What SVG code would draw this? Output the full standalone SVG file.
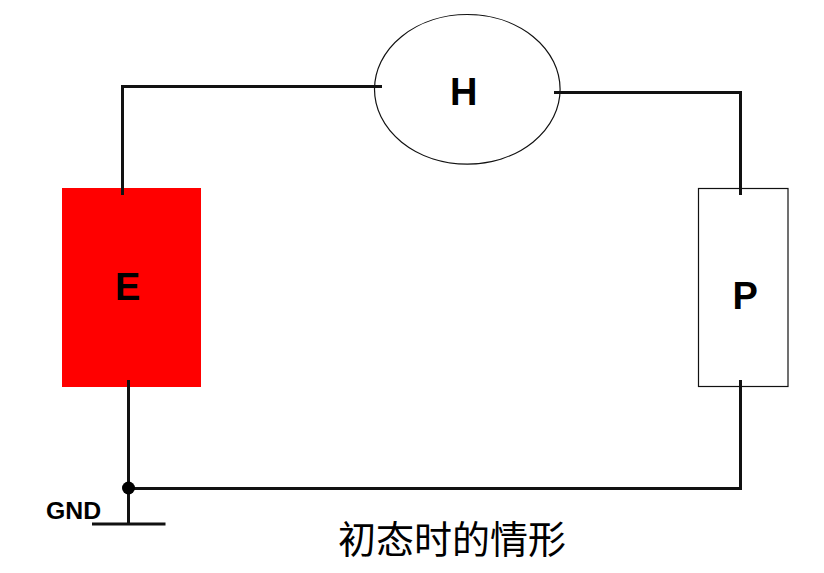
<svg xmlns="http://www.w3.org/2000/svg" width="824" height="573" viewBox="0 0 824 573">
<style>
.wire{fill:none;stroke:#111;stroke-width:3}
.outline{fill:#fff;stroke:#111;stroke-width:1.2}
.lbl{font-family:"Liberation Sans",Arial,sans-serif;font-weight:bold;font-size:38px;fill:#000}
</style>
<rect width="824" height="573" fill="#fff"/>
<g id="node-E"><rect x="62" y="188" width="139" height="199" fill="#f00"/><text class="lbl" x="115" y="300">E</text></g>
<g id="node-H"><ellipse class="outline" cx="467.3" cy="89.3" rx="92.8" ry="74.8"/><text class="lbl" x="450" y="105">H</text></g>
<g id="node-P"><rect class="outline" x="698.5" y="188.5" width="89.5" height="198"/><text class="lbl" x="732.500" y="309">P</text></g>
<g id="connectors">
<path class="wire" d="M122.5 195V86.5H382"/>
<path class="wire" d="M554 92.5H740.5V195"/>
<path class="wire" d="M740.5 380V488.5H128.5"/>
<path class="wire" d="M128.5 380V524"/>
<path class="wire" d="M92 524H165.500"/>
<circle cx="128.500" cy="488" r="6.500" fill="#000"/>
</g>
<g id="node-GND"><text x="46" y="519" font-family="'Liberation Sans',Arial,sans-serif" font-weight="bold" font-size="24.800" fill="#000">GND</text></g>
<text id="caption" x="338" y="553" font-family="'Liberation Sans','Noto Sans CJK SC',sans-serif" font-size="38" fill="#000">初态时的情形</text>
</svg>
